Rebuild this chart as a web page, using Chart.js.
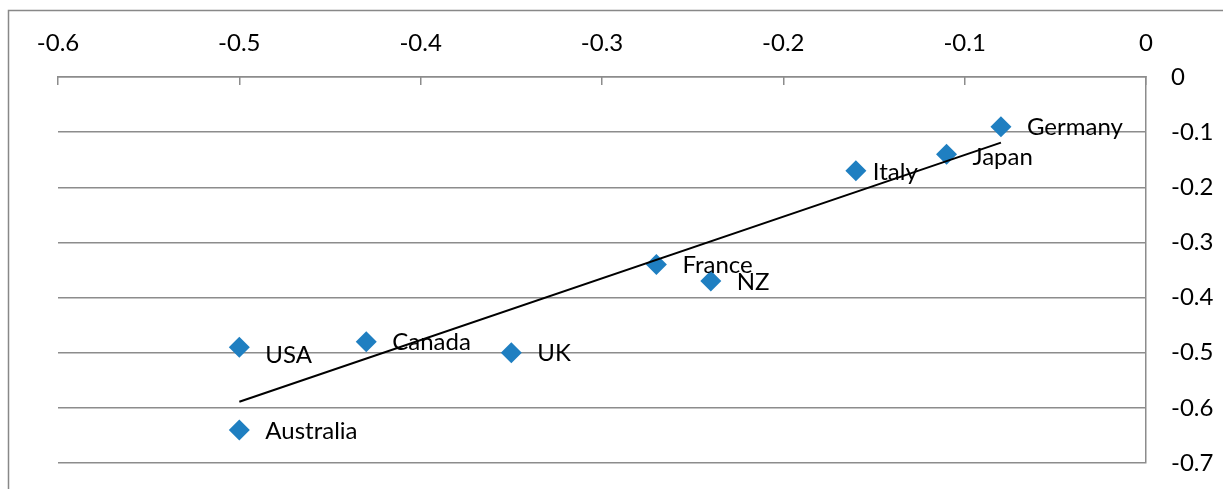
<!DOCTYPE html>
<html>
<head>
<meta charset="utf-8">
<script src="https://cdn.jsdelivr.net/npm/chart.js@4.4.1/dist/chart.umd.min.js"></script>
<style>
  html, body { margin: 0; padding: 0; background: #ffffff; }
  #wrap { width: 1223px; height: 489px; position: relative; }
</style>
</head>
<body>
<div id="wrap"><canvas id="c" width="1223" height="489"></canvas></div>
<script>
// Countries and their two measures
const countries = ['Germany', 'Japan', 'Italy', 'France', 'NZ', 'USA', 'Australia', 'Canada', 'UK'];
const xValues   = [-0.08, -0.11, -0.16, -0.27, -0.24, -0.50, -0.50, -0.43, -0.35];
const yValues   = [-0.09, -0.14, -0.17, -0.34, -0.37, -0.49, -0.64, -0.48, -0.50];

// Axis tick values
const xTicks = [-0.6, -0.5, -0.4, -0.3, -0.2, -0.1, 0];
const yTicks = [0, -0.1, -0.2, -0.3, -0.4, -0.5, -0.6, -0.7];

const points = countries.map((c, i) => ({ x: xValues[i], y: yValues[i], label: c }));

// Least-squares linear trend over the points
function linearFit(xs, ys) {
  const n = xs.length;
  const mx = xs.reduce((a, b) => a + b, 0) / n;
  const my = ys.reduce((a, b) => a + b, 0) / n;
  let sxy = 0, sxx = 0;
  for (let i = 0; i < n; i++) {
    sxy += (xs[i] - mx) * (ys[i] - my);
    sxx += (xs[i] - mx) * (xs[i] - mx);
  }
  const slope = sxy / sxx;
  return { slope, intercept: my - slope * mx };
}
const fit = linearFit(xValues, yValues);
const xMin = Math.min(...xValues), xMax = Math.max(...xValues);
const trend = [
  { x: xMin, y: fit.slope * xMin + fit.intercept },
  { x: xMax, y: fit.slope * xMax + fit.intercept }
];

const FONT = 'Lato, "Open Sans", sans-serif';
const GRID = '#8c8c8c';

// Small per-label nudges for readability
const labelNudge = { Italy: { dx: -9, dy: 1 }, USA: { dx: 0, dy: 7 }, Japan: { dx: 0, dy: 2 } };

const pointLabels = {
  id: 'pointLabels',
  afterDatasetsDraw(chart) {
    const ctx = chart.ctx;
    const meta = chart.getDatasetMeta(1);
    ctx.save();
    ctx.font = '24px ' + FONT;
    ctx.fillStyle = '#000000';
    ctx.textAlign = 'left';
    ctx.textBaseline = 'middle';
    meta.data.forEach((el, i) => {
      const name = countries[i];
      const n = labelNudge[name] || { dx: 0, dy: 0 };
      ctx.fillText(name, el.x + 26 + n.dx, el.y + 1 + n.dy);
    });
    ctx.restore();
  }
};

const frame = {
  id: 'frame',
  beforeDraw(chart) {
    const ctx = chart.ctx;
    ctx.save();
    ctx.fillStyle = '#ffffff';
    ctx.fillRect(0, 0, chart.width, chart.height);
    ctx.strokeStyle = '#888888';
    ctx.lineWidth = 1.5;
    ctx.strokeRect(8.5, 10.5, 1400, 700);
    ctx.restore();
  }
};

new Chart(document.getElementById('c'), {
  data: {
    datasets: [
      {
        type: 'line',
        data: trend,
        borderColor: '#000000',
        borderWidth: 2,
        pointRadius: 0,
        fill: false,
        order: 0
      },
      {
        type: 'scatter',
        data: points,
        pointStyle: 'rectRot',
        pointRadius: 10.5,
        pointHoverRadius: 10.5,
        backgroundColor: '#1f7fc1',
        borderColor: '#1f7fc1',
        borderWidth: 0,
        order: 1
      }
    ]
  },
  options: {
    responsive: false,
    animation: false,
    devicePixelRatio: 1,
    layout: { padding: { left: 58, top: 0, right: 0, bottom: 26 } },
    plugins: { legend: { display: false }, tooltip: { enabled: false } },
    scales: {
      x: {
        type: 'linear',
        position: 'top',
        min: -0.6,
        max: 0,
        afterBuildTicks(scale) { scale.ticks = xTicks.map(v => ({ value: v })); },
        afterFit(scale) { scale.height = 77; },
        grid: {
          drawOnChartArea: false,
          drawTicks: true,
          tickLength: -8,
          color: GRID,
          lineWidth: 1.5
        },
        border: { display: true, color: GRID, width: 1.5 },
        ticks: {
          padding: 27,
          color: '#000000',
          font: { family: FONT, size: 24 },
          maxRotation: 0,
          callback: v => String(Number(v.toFixed(1)))
        }
      },
      y: {
        type: 'linear',
        position: 'right',
        min: -0.7,
        max: 0,
        afterBuildTicks(scale) { scale.ticks = yTicks.map(v => ({ value: v })); },
        afterFit(scale) { scale.width = 77; },
        grid: {
          drawTicks: true,
          tickLength: 25,
          tickColor: 'rgba(0,0,0,0)',
          color: GRID,
          lineWidth: 1.5
        },
        border: { display: true, color: GRID, width: 1.5 },
        ticks: {
          padding: 0,
          color: '#000000',
          font: { family: FONT, size: 24 },
          callback: v => String(Number(v.toFixed(1)))
        }
      }
    }
  },
  plugins: [frame, pointLabels]
});
</script>
</body>
</html>
